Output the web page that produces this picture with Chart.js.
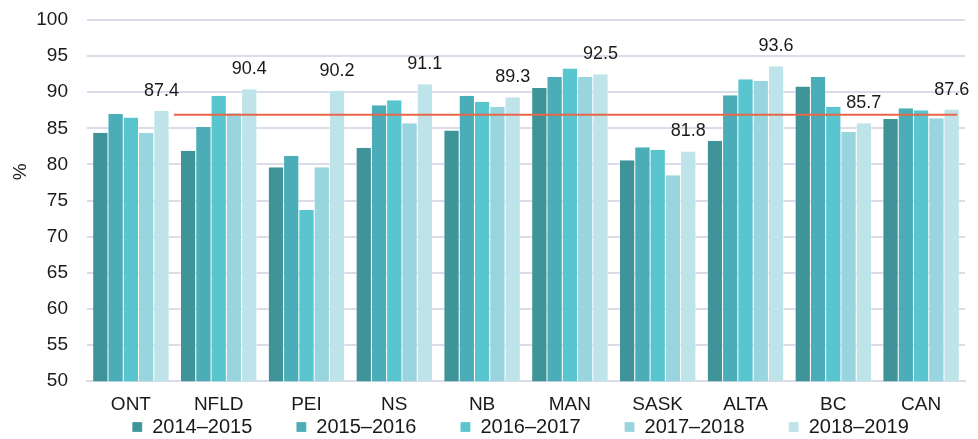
<!DOCTYPE html>
<html>
<head>
<meta charset="utf-8">
<script src="https://cdn.jsdelivr.net/npm/chart.js@4"></script>
<style>
  html, body { margin: 0; padding: 0; background: #fff; }
  #wrap { width: 978px; height: 439px; }
</style>
</head>
<body>
<div id="wrap"><canvas id="rateChart" width="978" height="439"></canvas></div>
<script>
// Provinces
const provinces = ['ONT', 'NFLD', 'PEI', 'NS', 'NB', 'MAN', 'SASK', 'ALTA', 'BC', 'CAN'];

// Series per fiscal year (%)
const y2014 = [84.4, 81.9, 79.6, 82.3, 84.7, 90.6, 80.6, 83.3, 90.8, 86.3];
const y2015 = [87.0, 85.2, 81.2, 88.2, 89.5, 92.1, 82.4, 89.6, 92.1, 87.8];
const y2016 = [86.5, 89.5, 73.7, 88.9, 88.7, 93.3, 82.0, 91.8, 88.0, 87.5];
const y2017 = [84.4, 87.1, 79.6, 85.7, 88.0, 92.1, 78.5, 91.6, 84.5, 86.4];
const y2018 = [87.4, 90.4, 90.2, 91.1, 89.3, 92.5, 81.8, 93.6, 85.7, 87.6];

const yearLabels = ['2014–2015', '2015–2016', '2016–2017', '2017–2018', '2018–2019'];
const colours = ['#3f9499', '#4badb8', '#58c5cf', '#98d5de', '#bee3e8'];

// Red reference line: from/to (category index units) and level (%)
const refFrom = 0.49;
const refTo = 9.41;
const refLevel = 86.9;

const yTicks = [50, 55, 60, 65, 70, 75, 80, 85, 90, 95, 100];

const font = "'Liberation Sans', Arial, sans-serif";

const barSets = [y2014, y2015, y2016, y2017, y2018].map((vals, i) => ({
    label: yearLabels[i],
    data: vals,
    backgroundColor: colours[i],
    borderColor: '#ffffff',
    borderWidth: { left: 0.5, right: 0.5, top: 0, bottom: 0 },
    categoryPercentage: 0.87,
    barPercentage: 1.0
}));

// Reference line + value labels above the last series
const overlay = {
    id: 'overlay',
    afterDatasetsDraw(chart) {
        const ctx = chart.ctx;
        const xs = chart.scales.x, ys = chart.scales.y;
        const x0 = xs.getPixelForValue(0);
        const step = xs.getPixelForValue(1) - x0;
        const ly = ys.getPixelForValue(refLevel);
        ctx.save();
        ctx.strokeStyle = '#e8664a';
        ctx.lineWidth = 2;
        ctx.beginPath();
        ctx.moveTo(x0 + refFrom * step, ly);
        ctx.lineTo(x0 + refTo * step, ly);
        ctx.stroke();

        const meta = chart.getDatasetMeta(4);
        ctx.font = '18px ' + font;
        ctx.fillStyle = '#1a1a1a';
        ctx.textAlign = 'center';
        ctx.textBaseline = 'alphabetic';
        meta.data.forEach((bar, i) => {
            ctx.fillText(y2018[i].toFixed(1), bar.x, bar.y - 15);
        });

        // y axis title
        ctx.translate(21, chart.chartArea.top + chart.chartArea.height * 0.42);
        ctx.rotate(-Math.PI / 2);
        ctx.font = '19px ' + font;
        ctx.textBaseline = 'middle';
        ctx.fillText('%', 0, 0);
        ctx.restore();
    },
    afterLayout(chart) {
        // put the legend lower and further right, like the original
        const lg = chart.legend;
        lg.top = 373;
        lg.bottom = 439;
        lg.height = lg.bottom - lg.top;
        lg.left += 38;
        lg.right += 38;
    }
};

const config = {
    type: 'bar',
    data: {
        labels: provinces,
        datasets: barSets
    },
    options: {
        responsive: false,
        animation: false,
        layout: { padding: { left: 0, right: 13, top: 20, bottom: 0 } },
        plugins: {
            legend: {
                position: 'bottom',
                maxHeight: 11,
                labels: {
                    boxWidth: 10,
                    boxHeight: 10,
                    padding: 44,
                    color: '#1a1a1a',
                    font: { family: font, size: 20 }
                }
            },
            tooltip: { enabled: false }
        },
        scales: {
            x: {
                grid: { display: false, drawTicks: false },
                border: { color: '#dcdbea', width: 2 },
                ticks: {
                    color: '#1a1a1a',
                    padding: 12,
                    font: { family: font, size: 19 }
                }
            },
            y: {
                min: 50,
                max: 100,
                afterBuildTicks: scale => { scale.ticks = yTicks.map(v => ({ value: v })); },
                afterFit: scale => { scale.width = 87; },
                grid: { color: '#dcdbea', lineWidth: 2, drawTicks: true, tickLength: 16, tickColor: 'rgba(0,0,0,0)' },
                border: { display: false },
                ticks: {
                    color: '#1a1a1a',
                    padding: 3,
                    font: { family: font, size: 19 }
                }
            }
        }
    },
    plugins: [overlay]
};

window.onload = function () {
    const ctx = document.getElementById('rateChart').getContext('2d');
    new Chart(ctx, config);
};
</script>
</body>
</html>
